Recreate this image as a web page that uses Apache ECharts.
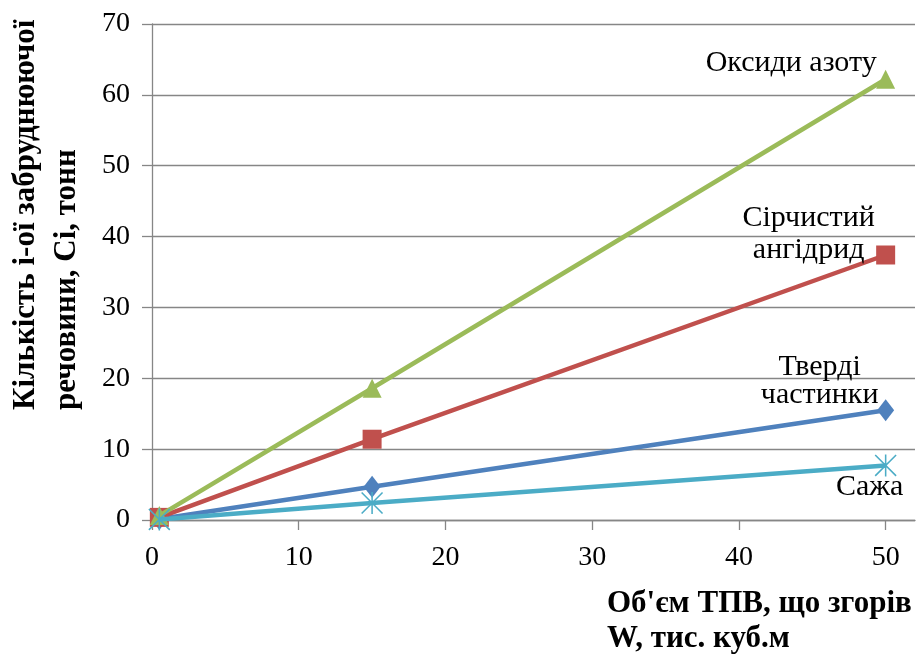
<!DOCTYPE html>
<html>
<head>
<meta charset="utf-8">
<script src="https://cdn.jsdelivr.net/npm/echarts@6/dist/echarts.min.js"></script>
<style>
html,body{margin:0;padding:0;background:#fff;}
#chart{width:916px;height:657px;}
</style>
</head>
<body>
<div id="chart"></div>
<script>
// Data
const xValues = [0.5, 15, 50];
const seriesNames = ['Тверді\nчастинки', 'Сірчистий\nангідрид', 'Оксиди азоту', 'Сажа'];
const tverdi = [0.15, 4.7, 15.5];
const sirchystyi = [0.37, 11.4, 37.4];
const oksydy = [0.62, 18.6, 62.2];
const sazha = [0.08, 2.4, 7.7];
const xTickInterval = 10;
const yTickInterval = 10;
const yMax = 70;
const xTitle = 'Об\'єм ТПВ, що згорів\nW, тис. куб.м';
const yTitle = 'Кількість і-ої забруднюючої\nречовини, Сі, тонн';

const FONT = '"Liberation Serif", "Times New Roman", serif';
const colors = ['#4F81BD', '#C0504D', '#9BBB59', '#4BACC6'];
const symbols = ['diamond', 'rect', 'triangle',
  'path://M9.3 0 L10.7 0 L10.7 20 L9.3 20 Z M0 1 L1 0 L20 19 L19 20 Z M19 0 L20 1 L1 20 L0 19 Z'];
const symbolSizes = [[17, 22], 19, [19, 19], 22];
const labelCfg = [
  {offset: [-66, -29], align: 'center', lh: 28},
  {offset: [-77, -21], align: 'center', lh: 32},
  {offset: [-9, -16], align: 'right', lh: 30},
  {offset: [-16, 22], align: 'center', lh: 30}
];
const values = [tverdi, sirchystyi, oksydy, sazha];

function makeSeries(i) {
  const data = xValues.map((x, k) => {
    const item = {value: [x, values[i][k]]};
    if (k === xValues.length - 1) {
      item.label = {
        show: true,
        position: 'inside',
        formatter: seriesNames[i],
        offset: labelCfg[i].offset,
        align: labelCfg[i].align,
        verticalAlign: 'middle',
        color: '#000',
        fontFamily: FONT,
        fontSize: 30,
        lineHeight: labelCfg[i].lh
      };
    }
    return item;
  });
  return {
    type: 'line',
    name: seriesNames[i],
    data: data,
    symbol: symbols[i],
    symbolSize: symbolSizes[i],
    showAllSymbol: true,
    lineStyle: {color: colors[i], width: 4.5},
    itemStyle: {color: colors[i], borderWidth: 0},
    emphasis: {disabled: true},
    animation: false,
    z: 2 + i
  };
}

const chart = echarts.init(document.getElementById('chart'), null, {renderer: 'canvas'});
chart.setOption({
  animation: false,
  grid: {left: 152, right: 1, top: 24, bottom: 137, containLabel: false},
  xAxis: {
    type: 'value', min: 0, max: 52, interval: xTickInterval,
    axisLine: {show: true, onZero: true, lineStyle: {color: '#868686', width: 1.3}},
    axisTick: {show: true, length: 10, lineStyle: {color: '#868686', width: 1.3}},
    splitLine: {show: false},
    axisLabel: {color: '#000', fontFamily: FONT, fontSize: 28, margin: 24, showMaxLabel: false,
      formatter: v => (v % 10 === 0 ? String(v) : '')}
  },
  yAxis: {
    type: 'value', min: 0, max: yMax, interval: yTickInterval,
    axisLine: {show: true, lineStyle: {color: '#868686', width: 1.3}},
    axisTick: {show: true, length: 10, lineStyle: {color: '#868686', width: 1.3}},
    splitLine: {show: true, lineStyle: {color: '#868686', width: 1.3}},
    axisLabel: {color: '#000', fontFamily: FONT, fontSize: 28, margin: 22}
  },
  graphic: [
    {
      type: 'text', x: 607, y: 586,
      style: {text: xTitle, fontFamily: FONT, fontSize: 31, fontWeight: 'bold', fill: '#000',
        textAlign: 'left', textVerticalAlign: 'top', verticalAlign: 'top', lineHeight: 35}
    },
    {
      type: 'text', x: 46.5, y: 410, rotation: Math.PI / 2,
      style: {text: yTitle, fontFamily: FONT, fontSize: 31, fontWeight: 'bold', fill: '#000',
        textAlign: 'left', textVerticalAlign: 'middle', verticalAlign: 'middle', lineHeight: 41}
    }
  ],
  series: [0, 1, 2, 3].map(makeSeries)
});
</script>
</body>
</html>
